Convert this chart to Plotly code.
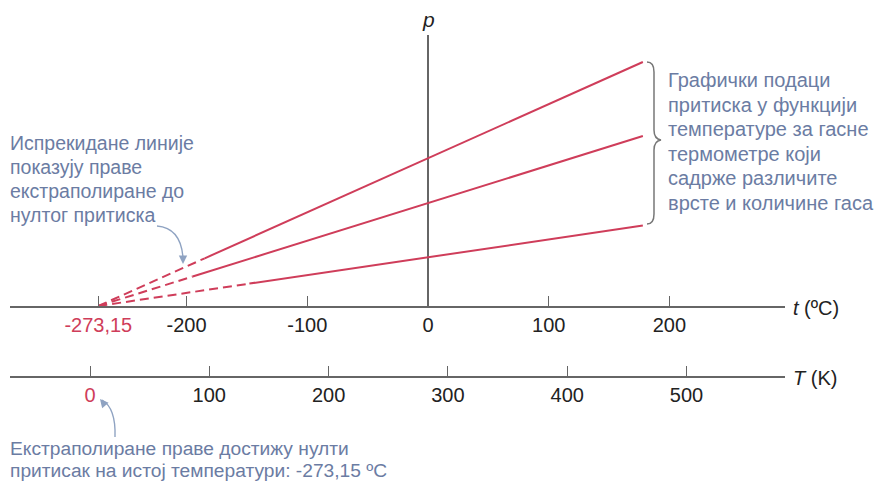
import plotly.graph_objects as go

# ---------------- data ----------------
# pressure lines (arbitrary pressure units) vs. temperature in °C
top_t = [-273.15, -185, 0, 178]
top_p = [0, 47.7, 147.7, 244]
mid_t = [-273.15, -195, 0, 178]
mid_p = [0, 29.5, 102.7, 170]
bot_t = [-273.15, -148, 0, 178]
bot_p = [0, 22.4, 48.7, 80.4]

t_ticks = [-273.15, -200, -100, 0, 100, 200]
t_labels = ["-273,15", "-200", "-100", "0", "100", "200"]
T_ticks = [0, 100, 200, 300, 400, 500]
T_labels = ["0", "100", "200", "300", "400", "500"]

left_note = ["Испрекидане линије", "показују праве", "екстраполиране до", "нултог притиска"]
right_note = ["Графички подаци", "притиска у функцији", "температуре за гасне",
              "термометре који", "садрже различите", "врсте и количине гаса"]
bottom_note = ["Екстраполиране праве достижу нулти",
               "притисак на истој температури: -273,15 ºC"]

# ---------------- style ----------------
W, H = 877, 481
RED = "#cf3d5a"
NOTE = "#6b7ca3"
AX = "#666666"
TXT = "#222222"
FONT = "Liberation Sans, Arial, sans-serif"
S_C = 1.207   # px per °C
S_K = 1.193   # px per K


def px(x):
    return x / W


def py(y):
    return 1 - y / H


fig = go.Figure()

for tt, pp in [(top_t, top_p), (mid_t, mid_p), (bot_t, bot_p)]:
    fig.add_trace(go.Scatter(x=tt[:2], y=pp[:2], mode="lines",
                             line=dict(color=RED, width=2, dash="9px,5px"),
                             hoverinfo="skip", showlegend=False))
    fig.add_trace(go.Scatter(x=tt[1:], y=pp[1:], mode="lines",
                             line=dict(color=RED, width=2),
                             hoverinfo="skip", showlegend=False))

# invisible trace to bind the Kelvin axis
fig.add_trace(go.Scatter(x=[T_ticks[0], T_ticks[-1]], y=[None, None], xaxis="x2", yaxis="y",
                         mode="lines", hoverinfo="skip", showlegend=False))

t_text = ['<span style="color:%s">%s</span>' % (RED, t_labels[0])] + t_labels[1:]
T_text = ['<span style="color:%s">%s</span>' % (RED, T_labels[0])] + T_labels[1:]

fig.update_layout(
    width=W, height=H, autosize=False,
    margin=dict(l=0, r=0, t=0, b=0),
    paper_bgcolor="white", plot_bgcolor="white",
    font=dict(family=FONT, color=TXT),
    xaxis=dict(domain=[px(10), px(785)],
               range=[(10 - 428) / S_C, (785 - 428) / S_C],
               anchor="y", showgrid=False,
               zeroline=True, zerolinecolor=AX, zerolinewidth=1.5,
               showline=True, linecolor=AX, linewidth=1.5,
               ticks="inside", ticklen=10, tickwidth=1.2, tickcolor=AX,
               tickvals=t_ticks, ticktext=t_text,
               tickfont=dict(size=20, color=TXT, family=FONT)),
    xaxis2=dict(overlaying="x", anchor="free", position=py(377), side="bottom",
                range=[(10 - 90) / S_K, (785 - 90) / S_K],
                showgrid=False, zeroline=False,
                showline=True, linecolor=AX, linewidth=1.5,
                ticks="inside", ticklen=10, tickwidth=1.2, tickcolor=AX,
                tickvals=T_ticks, ticktext=T_text,
                tickfont=dict(size=20, color=TXT, family=FONT)),
    yaxis=dict(domain=[py(306), py(35)], range=[0, 271], visible=False),
)

ann = []
# axis labels
ann.append(dict(x=0, xref="x", y=py(19), yref="paper", text="<i>p</i>",
                xanchor="center", yanchor="middle",
                showarrow=False, font=dict(size=21, color=TXT)))
ann.append(dict(x=px(791), xref="paper", y=py(308), yref="paper", text="<i>t</i> (ºC)",
                xanchor="left", yanchor="middle", showarrow=False, font=dict(size=20, color=TXT)))
ann.append(dict(x=px(791), xref="paper", y=py(378), yref="paper", text="<i>T</i> (K)",
                xanchor="left", yanchor="middle", showarrow=False, font=dict(size=20, color=TXT)))

for i, line in enumerate(left_note):
    ann.append(dict(x=px(8), xref="paper", y=py(143 + 24 * i), yref="paper", text=line,
                    xanchor="left", yanchor="middle", showarrow=False,
                    font=dict(size=19.5, color=NOTE)))
for i, line in enumerate(right_note):
    ann.append(dict(x=px(666), xref="paper", y=py(80 + 24.6 * i), yref="paper", text=line,
                    xanchor="left", yanchor="middle", showarrow=False,
                    font=dict(size=20, color=NOTE)))
for i, line in enumerate(bottom_note):
    ann.append(dict(x=px(8), xref="paper", y=py(448 + 22 * i), yref="paper", text=line,
                    xanchor="left", yanchor="middle", showarrow=False,
                    font=dict(size=19.2, color=NOTE)))

# arrowheads
ann.append(dict(x=px(183), xref="paper", y=py(264), yref="paper", text="",
                ax=0, ay=-7, showarrow=True, arrowhead=2, arrowsize=1.2,
                arrowwidth=1.4, arrowcolor="#8fa3c2"))
ann.append(dict(x=px(100), xref="paper", y=py(399), yref="paper", text="",
                ax=5, ay=6, showarrow=True, arrowhead=2, arrowsize=1.2,
                arrowwidth=1.4, arrowcolor="#8fa3c2"))
fig.update_layout(annotations=ann)


def path(points):
    out = []
    for cmd, pts in points:
        coords = " ".join("%.5f,%.5f" % (px(a), py(b)) for a, b in pts)
        out.append(cmd + coords)
    return " ".join(out)


shapes = []
# curved arrow stems
shapes.append(dict(type="path", xref="paper", yref="paper",
                   path=path([("M", [(157, 226)]), ("Q", [(181, 228), (183, 258)])]),
                   line=dict(color="#8fa3c2", width=1.4)))
shapes.append(dict(type="path", xref="paper", yref="paper",
                   path=path([("M", [(115, 437)]), ("Q", [(116, 408), (102, 400)])]),
                   line=dict(color="#8fa3c2", width=1.4)))
# brace
shapes.append(dict(type="path", xref="paper", yref="paper",
                   path=path([("M", [(647, 62)]), ("Q", [(654, 62), (654, 72)]),
                              ("L", [(654, 130)]), ("Q", [(654, 139), (661, 140)]),
                              ("Q", [(654, 141), (654, 150)]),
                              ("L", [(654, 214)]), ("Q", [(654, 224), (647, 224)])]),
                   line=dict(color="#777777", width=1.5)))
fig.update_layout(shapes=shapes)

fig.write_html("out.html",
               config={"displayModeBar": False},
               post_script="document.body.style.margin='0px';"
                           "document.body.style.overflow='hidden';")
